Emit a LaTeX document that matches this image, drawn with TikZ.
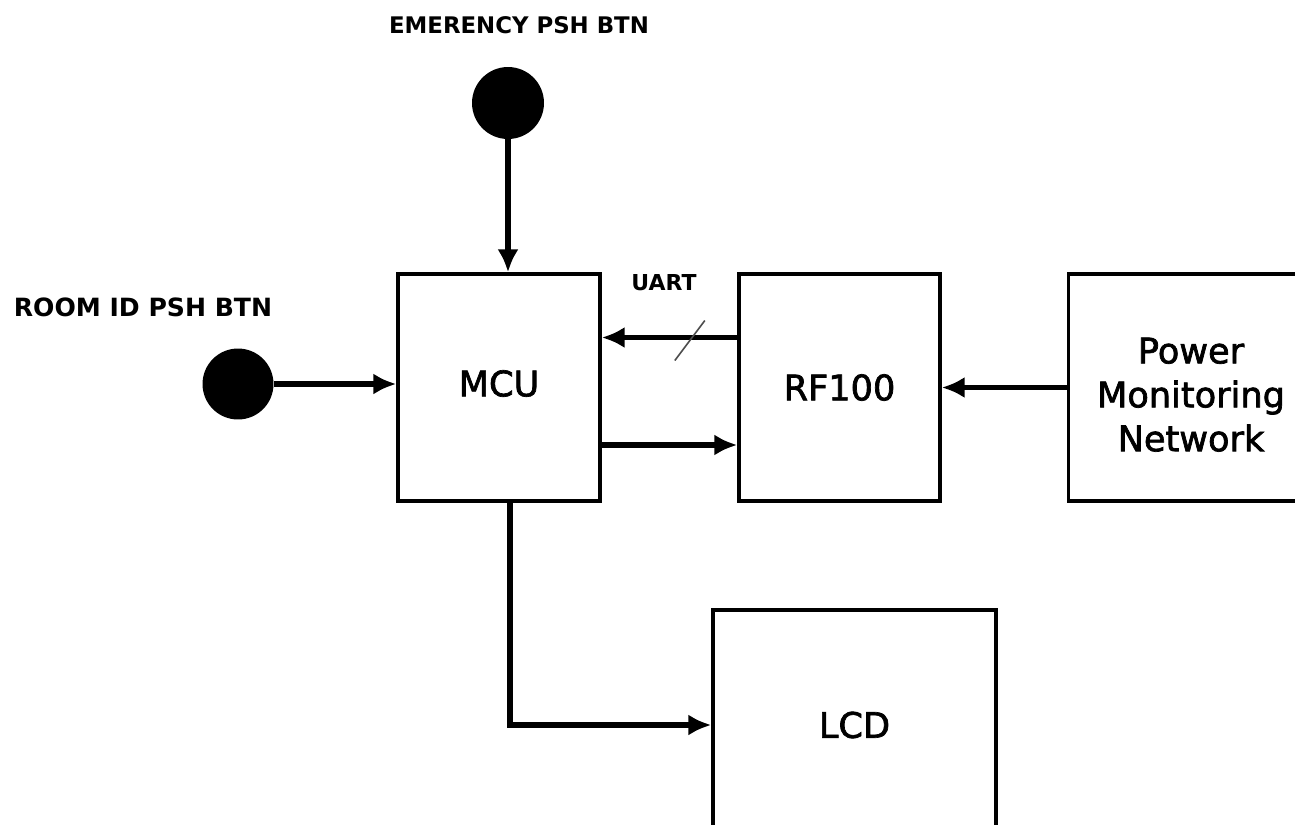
\documentclass[tikz,border=0pt]{standalone}
\usepackage{fontspec}
\setmainfont{DejaVu Sans}
\newfontfamily\blkfont[FakeBold=2]{DejaVu Sans}
\usetikzlibrary{arrows.meta,positioning,calc}
\tikzset{
  blk/.style={rectangle,draw=black,line width=2pt,fill=white,
              font=\blkfont\fontsize{20}{25}\selectfont,align=center,inner sep=0pt},
  pbtn/.style={circle,fill=black,inner sep=0pt},
  lbl/.style={font=\bfseries\fontsize{13}{15}\selectfont},
  link/.style={-{Latex[length=13pt,width=12pt]},line width=3.2pt},
}
\begin{document}
\begin{tikzpicture}[x=0.02cm,y=-0.02cm]
  \clip (0,0) rectangle (1295,825);
  \fill[white] (0,0) rectangle (1295,825);
  % blocks
  \node[blk,minimum width=4.04cm,minimum height=4.54cm] (mcu) at (499,387.5)
    {\raisebox{0.08cm}[\height][\depth]{MCU}};
  \node[blk,minimum width=4.02cm,minimum height=4.54cm] (rf) at (839.5,387.5) {RF100};
  \node[blk,minimum width=4.9cm,minimum height=4.54cm] (pmn) at (1191,387.5)
    {\raisebox{-0.22cm}[\height][\depth]{\begin{tabular}{@{}c@{}}Power\\Monitoring\\Network\end{tabular}}};
  \node[blk,minimum width=5.66cm,minimum height=4.6cm] (lcd) at (854.5,725) {LCD};
  % push buttons
  \node[pbtn,minimum size=1.44cm] (ebtn) at (508,103) {};
  \node[pbtn,minimum size=1.42cm] (rbtn) at (238,384) {};
  \node[lbl] (elbl) at (519,25) {EMERENCY PSH BTN};
  \node[lbl,font=\bfseries\fontsize{14.3}{16}\selectfont] (rlbl) at (143,307) {ROOM ID PSH BTN};
  \node[lbl,font=\bfseries\fontsize{12.5}{14}\selectfont] (uart) at (664,283) {UART};
  % connectors
  \draw[link] (ebtn.south) -- (ebtn.south |- mcu.north);
  \draw[link] (rbtn.east) -- (rbtn.east -| mcu.west);
  \draw[link] ([yshift=1.0cm]rf.west) -- ([yshift=1.0cm]mcu.east)
    coordinate[pos=0.35] (bus);
  \draw[line width=0.9pt,black!70] ([xshift=-0.3cm,yshift=-0.46cm]bus) -- ([xshift=0.3cm,yshift=0.34cm]bus);
  \draw[link] ([yshift=-1.15cm]mcu.east) -- ([yshift=-1.15cm]rf.west);
  \draw[link] (pmn.west) -- (pmn.west -| rf.east);
  \draw[link] ([xshift=0.22cm]mcu.south) |- (lcd.west);
\end{tikzpicture}
\end{document}
